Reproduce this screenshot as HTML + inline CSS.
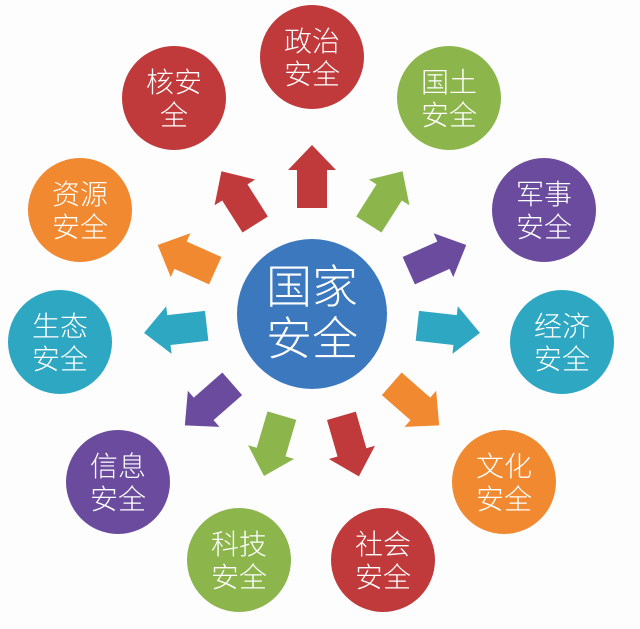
<!DOCTYPE html>
<html><head><meta charset="utf-8"><style>
html,body{margin:0;padding:0;background:#fff}
svg{display:block}
text{font-family:"Liberation Sans","Noto Sans CJK SC",sans-serif;fill:#fff;text-anchor:middle;font-weight:300}
</style></head><body>
<svg width="640" height="629" viewBox="0 0 640 629" xmlns="http://www.w3.org/2000/svg">
<rect width="640" height="629" fill="#fdfdfd"/>
<defs><path id="a" d="M106,-15 L144,-15 L144,-24 L169,0 L144,24 L144,15 L106,15 Z"/></defs>
<g transform="translate(312,314)">
<use href="#a" fill="#c0393b" transform="rotate(-90)"/>
<use href="#a" fill="#8cb64b" transform="rotate(-57.6)"/>
<use href="#a" fill="#c0393b" transform="rotate(-122.4)"/>
<use href="#a" fill="#6b4b9e" transform="rotate(-24.1)"/>
<use href="#a" fill="#f0892f" transform="rotate(-155.9)"/>
<use href="#a" fill="#2ea7c3" transform="rotate(6.4)"/>
<use href="#a" fill="#2ea7c3" transform="rotate(173.6)"/>
<use href="#a" fill="#f0892f" transform="rotate(41.2)"/>
<use href="#a" fill="#6b4b9e" transform="rotate(138.8)"/>
<use href="#a" fill="#c0393b" transform="rotate(73.9)"/>
<use href="#a" fill="#8cb64b" transform="rotate(106.5)"/>
</g>
<circle cx="312" cy="314" r="75" fill="#3b78be"/>
<text x="312" y="303" font-size="46">国家</text>
<text x="312" y="355" font-size="46">安全</text>
<g font-size="28">
<circle cx="312" cy="57" r="52" fill="#c0393b"/><text x="312" y="51">政治</text><text x="312" y="84">安全</text>
<circle cx="449" cy="98" r="52" fill="#8cb64b"/><text x="449" y="92">国土</text><text x="449" y="125">安全</text>
<circle cx="174" cy="98" r="52" fill="#c0393b"/><text x="174" y="92">核安</text><text x="174" y="125">全</text>
<circle cx="544" cy="210" r="52" fill="#6b4b9e"/><text x="544" y="204">军事</text><text x="544" y="237">安全</text>
<circle cx="80" cy="210" r="52" fill="#f0892f"/><text x="80" y="204">资源</text><text x="80" y="237">安全</text>
<circle cx="562" cy="342" r="52" fill="#2ea7c3"/><text x="562" y="336">经济</text><text x="562" y="369">安全</text>
<circle cx="60" cy="342" r="52" fill="#2ea7c3"/><text x="60" y="336">生态</text><text x="60" y="369">安全</text>
<circle cx="504" cy="482" r="52" fill="#f0892f"/><text x="504" y="476">文化</text><text x="504" y="509">安全</text>
<circle cx="118" cy="482" r="52" fill="#6b4b9e"/><text x="118" y="476">信息</text><text x="118" y="509">安全</text>
<circle cx="383" cy="560" r="52" fill="#c0393b"/><text x="383" y="554">社会</text><text x="383" y="587">安全</text>
<circle cx="239" cy="560" r="52" fill="#8cb64b"/><text x="239" y="554">科技</text><text x="239" y="587">安全</text>
</g>
</svg>
</body></html>
